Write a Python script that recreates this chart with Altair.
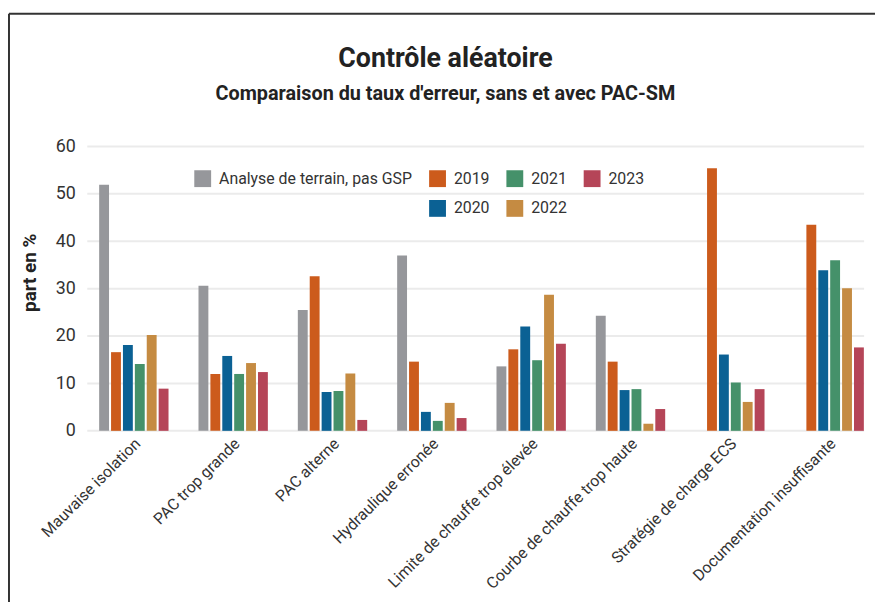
import altair as alt
import pandas as pd

categories = ["Mauvaise isolation", "PAC trop grande", "PAC alterne", "Hydraulique erronée",
              "Limite de chauffe trop élevée", "Courbe de chauffe trop haute",
              "Stratégie de charge ECS", "Documentation insuffisante"]
series = ["Analyse de terrain, pas GSP", "2019", "2020", "2021", "2022", "2023"]
colors = {"Analyse de terrain, pas GSP": "#96979b", "2019": "#cc5b1c", "2020": "#0b6194",
          "2021": "#45916a", "2022": "#c58b42", "2023": "#b54558"}

v_gsp = [51.9, 30.6, 25.5, 37.0, 13.6, 24.3, None, None]
v_2019 = [16.6, 12.0, 32.6, 14.6, 17.2, 14.6, 55.4, 43.5]
v_2020 = [18.1, 15.8, 8.2, 4.0, 22.0, 8.6, 16.1, 33.9]
v_2021 = [14.1, 12.0, 8.4, 2.1, 14.9, 8.8, 10.2, 36.0]
v_2022 = [20.2, 14.3, 12.1, 5.9, 28.7, 1.5, 6.1, 30.1]
v_2023 = [8.9, 12.4, 2.3, 2.7, 18.4, 4.6, 8.8, 17.6]
y_ticks = [0, 10, 20, 30, 40, 50, 60]

rows = []
for s, vals in zip(series, [v_gsp, v_2019, v_2020, v_2021, v_2022, v_2023]):
    for c, v in zip(categories, vals):
        if v is not None:
            rows.append({"cat": c, "series": s, "value": v})
df = pd.DataFrame(rows)

# legend fills column by column (2 rows): GSP / blank | 2019 / 2020 | 2021 / 2022 | 2023
blank = " "
legend_order = ["Analyse de terrain, pas GSP", blank, "2019", "2020", "2021", "2022", "2023"]
legend_colors = [colors[s] if s != blank else "transparent" for s in legend_order]

FONT = "Roboto"

y_axis = alt.Axis(values=y_ticks, grid=False, domain=False, ticks=False,
                  labelFontSize=18, labelColor="#333", labelFont=FONT, labelPadding=9,
                  title="part en %", titleFontSize=19, titleFont=FONT,
                  titleFontWeight="bold", titleColor="#222", titlePadding=16, titleY=127)

grid = alt.Chart(pd.DataFrame({"tick": y_ticks})).mark_rule(color="#ebebeb", strokeWidth=2).encode(
    y=alt.Y("tick:Q", scale=alt.Scale(domain=[0, 60]), axis=y_axis, title="part en %"),
    x=alt.value(3), x2=alt.value(787),
)

bars = alt.Chart(df).mark_bar().encode(
    x=alt.X("cat:N", sort=categories, title=None,
            scale=alt.Scale(range=[0, 802], paddingInner=0, paddingOuter=0),
            axis=alt.Axis(labelAngle=-45, labelAlign="right", labelBaseline="middle",
                          labelFontSize=16, labelColor="#333", labelFont=FONT,
                          labelPadding=10, labelOffset=4, ticks=False, domain=False,
                          labelLimit=400)),
    xOffset=alt.XOffset("series:N", sort=series,
                        scale=alt.Scale(domain=series, range=[15, 85],
                                        paddingInner=0.17, paddingOuter=0)),
    y=alt.Y("value:Q", scale=alt.Scale(domain=[0, 60]), axis=y_axis, title="part en %"),
    color=alt.Color("series:N", scale=alt.Scale(domain=legend_order, range=legend_colors),
                    legend=alt.Legend(orient="none", legendX=111, legendY=24, columns=4,
                                      title=None, symbolType="square", symbolSize=289,
                                      symbolStrokeWidth=0, labelFontSize=16, labelFont=FONT,
                                      labelColor="#333", labelOffset=8, columnPadding=17,
                                      rowPadding=13, labelLimit=400)),
)

frame_left = alt.Chart(pd.DataFrame({"a": [0]})).mark_rule(color="#333", strokeWidth=2).encode(
    x=alt.value(-76), y=alt.value(-134), y2=alt.value(470))
frame_top = alt.Chart(pd.DataFrame({"a": [0]})).mark_rule(color="#333", strokeWidth=2).encode(
    x=alt.value(-76), x2=alt.value(800), y=alt.value(-134))

chart = alt.layer(grid, bars, frame_left, frame_top).properties(
    width=787, height=287,
    autosize=alt.AutoSizeParams(type="none"),
    padding={"left": 77, "top": 137, "right": 11, "bottom": 170},
    title=alt.TitleParams(text="Contrôle aléatoire",
                          subtitle="Comparaison du taux d'erreur, sans et avec PAC-SM",
                          font=FONT, subtitleFont=FONT, fontSize=27, subtitleFontSize=20,
                          fontWeight="bold", subtitleFontWeight="bold",
                          color="#222", subtitleColor="#222", anchor="middle", dx=-29,
                          frame="group", offset=0, dy=93, subtitlePadding=11),
).configure_view(stroke=None)

chart.save("out.html", embed_options={"renderer": "svg", "actions": False})
